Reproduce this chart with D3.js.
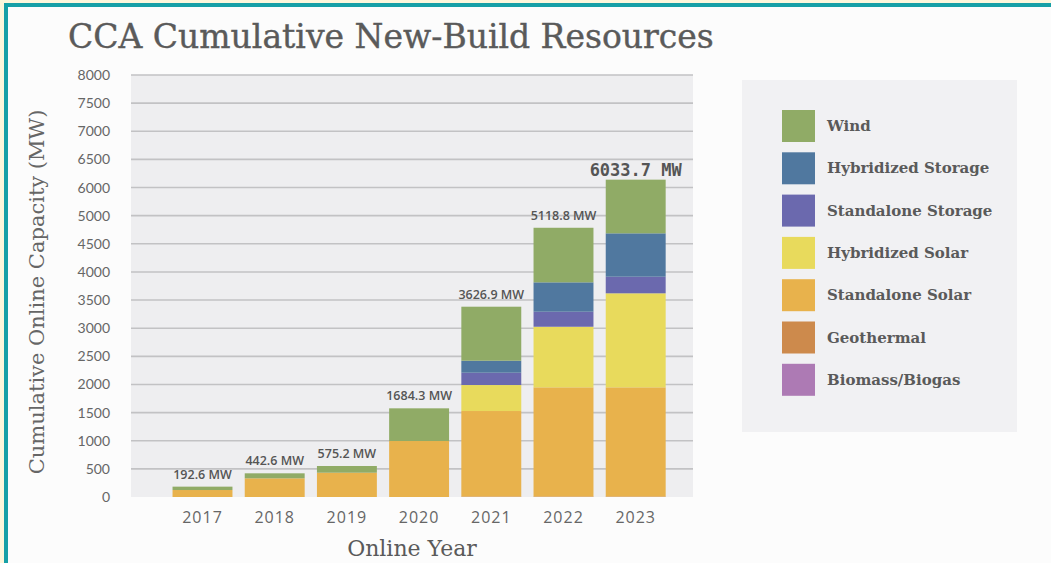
<!DOCTYPE html>
<html>
<head>
<meta charset="utf-8">
<script src="https://cdn.jsdelivr.net/npm/d3@7"></script>
<style>
  body { margin: 0; background: #fdf7dc; }
  #app { width: 1051px; height: 563px; }
  text { fill: #5a5a5a; }
  .serif { font-family: 'DejaVu Serif', serif; }
</style>
</head>
<body>
<div id="app"></div>
<script>
// values (MW per segment)
const years = ['2017', '2018', '2019', '2020', '2021', '2022', '2023'];
const biomass = [0, 0, 0, 0, 0, 0, 0];
const geothermal = [0, 0, 0, 0, 10, 10, 10];
const standaloneSolar = [124, 332, 432, 995, 1518, 1939, 1939];
const hybridizedSolar = [0, 0, 0, 0, 462, 1077, 1671];
const standaloneStorage = [0, 0, 0, 0, 219, 267, 295];
const hybridizedStorage = [0, 0, 0, 0, 213, 522, 771];
const wind = [60, 89, 119, 581, 960, 970, 1454];
const totals = [192.6, 442.6, 575.2, 1684.3, 3626.9, 5118.8, 6033.7];

// axis labels as printed (5500 is skipped on the original)
const yTicks = [0, 500, 1000, 1500, 2000, 2500, 3000, 3500, 4000, 4500, 5000, 6000, 6500, 7000, 7500, 8000];

const seriesNames = ['Wind', 'Hybridized Storage', 'Standalone Storage', 'Hybridized Solar', 'Standalone Solar', 'Geothermal', 'Biomass/Biogas'];
const colors = ['#90ab66', '#50789f', '#6b69ae', '#e8da5c', '#e8b24c', '#cd8a4c', '#ad7ab4'];

const series = {
  'Biomass/Biogas': biomass,
  'Geothermal': geothermal,
  'Standalone Solar': standaloneSolar,
  'Hybridized Solar': hybridizedSolar,
  'Standalone Storage': standaloneStorage,
  'Hybridized Storage': hybridizedStorage,
  'Wind': wind
};
const stackOrder = seriesNames.slice().reverse();
const table = years.map((y, i) => {
  const row = { year: y };
  stackOrder.forEach(k => (row[k] = series[k][i]));
  return row;
});

const width = 1051;
const height = 563;
const svg = d3.select('#app').append('svg')
  .attr('width', width)
  .attr('height', height);

// frame: yellow page, teal border, white card
svg.append('rect').attr('x', 4).attr('y', 3).attr('width', width).attr('height', height).attr('fill', '#17a0a7');
svg.append('rect').attr('x', 8).attr('y', 7).attr('width', width).attr('height', height).attr('fill', '#fcfcfc');

const plotTop = 75;
const plotBottom = 497;
const step = (plotBottom - plotTop) / 15;

const x = d3.scaleBand(years, [166.4, 671.8]).paddingInner(0.17).paddingOuter(0.085);
const y = d3.scaleLinear()
  .domain([0, 5000, 6000, 8000])
  .range([plotBottom, plotBottom - 10 * step, plotBottom - 11 * step, plotTop]);
const color = d3.scaleOrdinal(seriesNames, colors);

svg.append('rect')
  .attr('x', 131).attr('y', plotTop)
  .attr('width', 693 - 131).attr('height', plotBottom - plotTop)
  .attr('fill', '#eeeef0');

svg.append('g').selectAll('line')
  .data(yTicks.filter(d => d > 0))
  .join('line')
  .attr('x1', 131).attr('x2', 693)
  .attr('y1', d => y(d)).attr('y2', d => y(d))
  .attr('stroke', '#c2c2c4')
  .attr('stroke-width', 1.6);

const yAxis = svg.append('g')
  .attr('transform', 'translate(110,0)')
  .call(d3.axisLeft(y).tickValues(yTicks).tickSize(0).tickPadding(0).tickFormat(d => d));
yAxis.select('.domain').remove();
yAxis.selectAll('text')
  .style('font-family', 'Lato, sans-serif')
  .style('font-size', '14px')
  .style('fill', '#666');

const stacked = d3.stack().keys(stackOrder)(table);

svg.append('g').selectAll('g')
  .data(stacked)
  .join('g')
  .attr('fill', d => color(d.key))
  .selectAll('rect')
  .data(d => d)
  .join('rect')
  .attr('x', d => x(d.data.year))
  .attr('y', d => y(d[1]))
  .attr('width', x.bandwidth())
  .attr('height', d => y(d[0]) - y(d[1]));

// totals above bars
const last = years.length - 1;
svg.append('g').selectAll('text')
  .data(totals)
  .join('text')
  .attr('x', (d, i) => x(years[i]) + x.bandwidth() / 2)
  .attr('y', (d, i) => y(d3.sum(stackOrder, k => series[k][i])) - (i === last ? 4 : 8))
  .attr('text-anchor', 'middle')
  .style('font-family', (d, i) => i === last ? "'DejaVu Sans Mono', monospace" : "'Open Sans', sans-serif")
  .style('font-weight', (d, i) => i === last ? 'bold' : 600)
  .style('font-size', (d, i) => i === last ? '17px' : '12.5px')
  .style('fill', '#555')
  .text(d => `${d} MW`);

const xAxis = svg.append('g')
  .attr('transform', `translate(0,${plotBottom})`)
  .call(d3.axisBottom(x).tickSize(0).tickPadding(15));
xAxis.select('.domain').remove();
xAxis.selectAll('text')
  .style('font-family', "'Open Sans', sans-serif")
  .style('font-size', '16px')
  .style('letter-spacing', '1px')
  .style('fill', '#666');

svg.append('text')
  .attr('class', 'serif')
  .attr('x', 68).attr('y', 48)
  .style('font-size', '33px')
  .style('stroke', '#5a5a5a')
  .style('stroke-width', 0.4)
  .text('CCA Cumulative New-Build Resources');

svg.append('text')
  .attr('class', 'serif')
  .attr('transform', `translate(44,${(plotTop + plotBottom) / 2 + 6}) rotate(-90)`)
  .attr('text-anchor', 'middle')
  .style('font-size', '21px')
  .style('fill', '#666')
  .text('Cumulative Online Capacity (MW)');

svg.append('text')
  .attr('class', 'serif')
  .attr('x', 412).attr('y', 556)
  .attr('text-anchor', 'middle')
  .style('font-size', '22px')
  .text('Online Year');

// legend
const legend = svg.append('g');
legend.append('rect')
  .attr('x', 742).attr('y', 80)
  .attr('width', 275).attr('height', 352)
  .attr('fill', '#f1f1f3');

const item = legend.selectAll('g.item')
  .data(seriesNames)
  .join('g')
  .attr('class', 'item')
  .attr('transform', (d, i) => `translate(782,${110 + i * 42.3})`);
item.append('rect')
  .attr('width', 33).attr('height', 32)
  .attr('fill', d => color(d));
item.append('text')
  .attr('class', 'serif')
  .attr('x', 45).attr('y', 21)
  .style('font-size', '15px')
  .style('font-weight', 'bold')
  .text(d => d);
</script>
</body>
</html>
